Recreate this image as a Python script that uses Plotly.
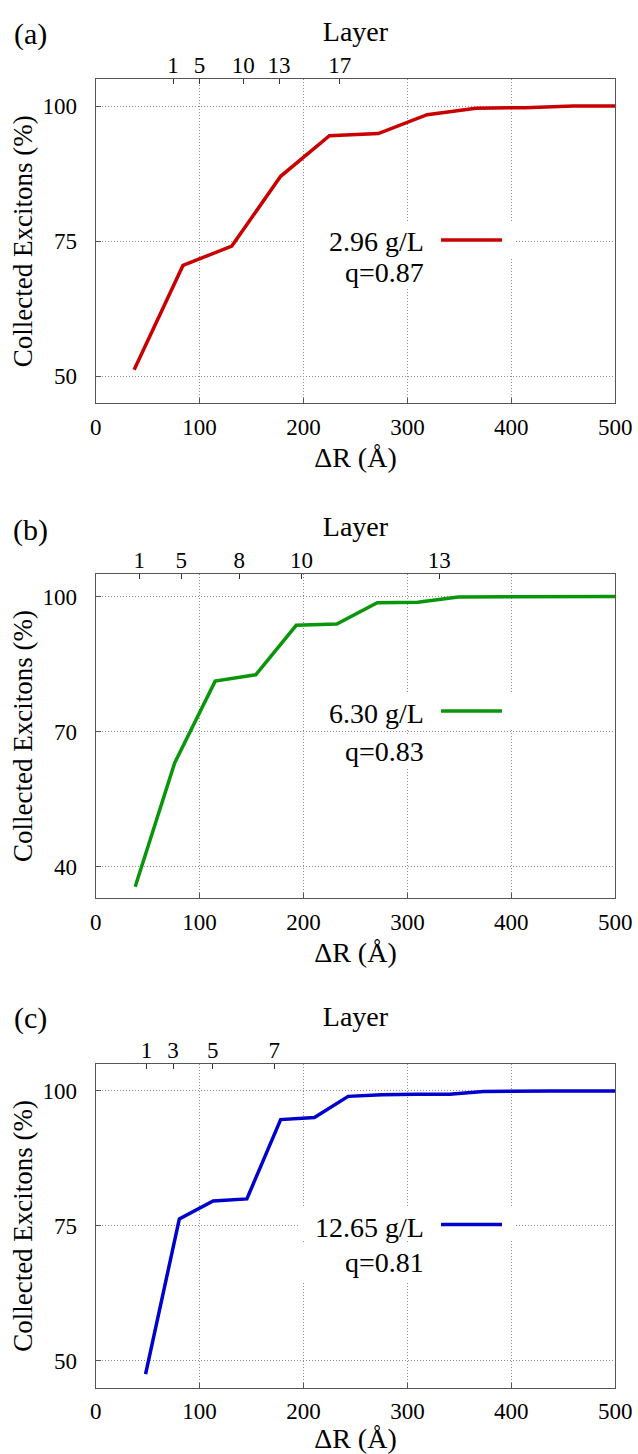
import plotly.graph_objects as go

# ---------------- data ----------------
dR_a = [37, 84, 131, 178, 225, 272, 319, 366, 413, 460, 500]
exc_a = [51.2, 70.5, 74.1, 87.0, 94.5, 94.9, 98.4, 99.6, 99.7, 100.0, 100.0]

dR_b = [38, 76, 115, 154, 193, 232, 271, 310, 349, 388, 427, 466, 500]
exc_b = [35.5, 63.0, 81.2, 82.6, 93.6, 93.9, 98.6, 98.7, 99.9, 99.9, 99.9, 100.0, 100.0]

dR_c = [48, 80.5, 113, 145.5, 178, 210.5, 243, 275.5, 308, 340.5, 373, 405.5, 438, 470.5, 500]
exc_c = [47.5, 76.3, 79.6, 80.0, 94.7, 95.1, 99.0, 99.3, 99.4, 99.4, 99.9, 100.0, 100.0, 100.0, 100.0]

layer_pos_a = [74.5, 100, 142, 176.5, 235]
layer_lab_a = ["1", "5", "10", "13", "17"]
layer_pos_b = [42, 82.3, 138.2, 198, 330.6]
layer_lab_b = ["1", "5", "8", "10", "13"]
layer_pos_c = [49, 74.4, 112.6, 171.8]
layer_lab_c = ["1", "3", "5", "7"]

x_ticks = [0, 100, 200, 300, 400, 500]
y_ticks_a = [50, 75, 100]
y_ticks_b = [40, 70, 100]
y_ticks_c = [50, 75, 100]

conc_labels = ["2.96 g/L", "6.30 g/L", "12.65 g/L"]
q_labels = ["q=0.87", "q=0.83", "q=0.81"]
panel_labels = ["(a)", "(b)", "(c)"]
y_title = "Collected Excitons (%)"
x_title = "ΔR (Å)"
top_title = "Layer"

# ---------------- layout geometry (pixels) ----------------
W, H = 638, 1454
PX_L, PX_R = 95.7, 615.2
X_RANGE = [0, 500]
FONT = "Liberation Serif"
colors = ["#c80000", "#0a960a", "#0000cc"]

panels = [
    dict(x=dR_a, y=exc_a, top=79, bot=403.3, yr=[45, 105], yt=y_ticks_a,
         lp=layer_pos_a, ll=layer_lab_a, line_y=240, t1=242, t2=273,
         box1=(306, 516, 223, 258), box2=(306, 440, 258, 288), lab_y=34),
    dict(x=dR_b, y=exc_b, top=574, bot=898, yr=[33, 105], yt=y_ticks_b,
         lp=layer_pos_b, ll=layer_lab_b, line_y=711, t1=713, t2=751,
         box1=(306, 516, 693, 729), box2=(306, 440, 735, 768), lab_y=530),
    dict(x=dR_c, y=exc_c, top=1064, bot=1387.7, yr=[45, 105], yt=y_ticks_c,
         lp=layer_pos_c, ll=layer_lab_c, line_y=1224.5, t1=1227, t2=1262,
         box1=(298, 516, 1208, 1241), box2=(298, 440, 1244, 1281), lab_y=1018),
]


def x_of_px(px):
    return X_RANGE[0] + (px - PX_L) / (PX_R - PX_L) * (X_RANGE[1] - X_RANGE[0])


def y_of_px(px, p):
    y0, y1 = p["yr"]
    return y1 - (px - p["top"]) / (p["bot"] - p["top"]) * (y1 - y0)


fig = go.Figure()
shapes = []
annotations = []
layout = dict(
    width=W, height=H,
    margin=dict(l=0, r=0, t=0, b=0, autoexpand=False),
    paper_bgcolor="white", plot_bgcolor="white",
    showlegend=False,
    font=dict(family=FONT, size=23, color="black"),
)

grid_col = "#8c8c8c"
grid_dash = "1px,2px"
spine_col = "#555555"

for i, p in enumerate(panels):
    n = i + 1
    xs = "" if n == 1 else str(n)
    xname, yname = "x" + xs, "y" + xs
    top_n = n + 3
    fig.add_trace(go.Scatter(x=p["x"], y=p["y"], mode="lines",
                             line=dict(color=colors[i], width=3.5),
                             xaxis=xname, yaxis=yname, hoverinfo="skip"))
    # invisible trace to anchor the top (Layer) axis
    fig.add_trace(go.Scatter(x=[p["lp"][0]], y=[p["yr"][0]], mode="markers",
                             marker=dict(opacity=0), xaxis="x" + str(top_n),
                             yaxis=yname, hoverinfo="skip"))

    ydom = [1 - p["bot"] / H, 1 - p["top"] / H]
    xdom = [PX_L / W, PX_R / W]

    layout["xaxis" + xs] = dict(
        domain=xdom, anchor=yname, range=X_RANGE, tickvals=x_ticks,
        showgrid=True, gridcolor=grid_col, griddash=grid_dash, gridwidth=1,
        showline=True, mirror=True, linecolor=spine_col, linewidth=1,
        ticks="inside", ticklen=5, tickcolor=spine_col,
        ticklabelstandoff=3, zeroline=False,
        tickfont=dict(family=FONT, size=23),
        title=dict(text=x_title, font=dict(family=FONT, size=28), standoff=8),
    )
    layout["yaxis" + xs] = dict(
        domain=ydom, anchor=xname, range=p["yr"], tickvals=p["yt"],
        showgrid=True, gridcolor=grid_col, griddash=grid_dash, gridwidth=1,
        showline=True, mirror=True, linecolor=spine_col, linewidth=1,
        ticks="inside", ticklen=5, tickcolor=spine_col,
        ticklabelstandoff=13, zeroline=False,
        tickfont=dict(family=FONT, size=23),
    )
    layout["xaxis" + str(top_n)] = dict(
        overlaying=xname, anchor=yname, side="top", range=X_RANGE,
        tickvals=p["lp"], ticktext=p["ll"], showgrid=False, showline=False,
        ticks="inside", ticklen=5, tickcolor="#333333",
        ticklabelstandoff=0, zeroline=False,
        tickfont=dict(family=FONT, size=23),
        title=dict(text=top_title, font=dict(family=FONT, size=28), standoff=3),
    )

    # y axis title (rotated text)
    annotations.append(dict(xref="paper", yref="paper", x=23 / W,
                            y=1 - (p["top"] + p["bot"]) / 2 / H,
                            xanchor="center", yanchor="middle", showarrow=False,
                            textangle=-90, text=y_title,
                            font=dict(family=FONT, size=27)))

    # key background boxes (opaque key, drawn above grid, below the curve)
    for (l, r, t, b) in (p["box1"], p["box2"]):
        shapes.append(dict(type="rect", xref=xname, yref=yname, layer="between",
                           x0=x_of_px(l), x1=x_of_px(r),
                           y0=y_of_px(b, p), y1=y_of_px(t, p),
                           fillcolor="white", line=dict(width=0)))
    # key sample line
    shapes.append(dict(type="line", xref=xname, yref=yname, layer="above",
                       x0=x_of_px(441), x1=x_of_px(502),
                       y0=y_of_px(p["line_y"], p), y1=y_of_px(p["line_y"], p),
                       line=dict(color=colors[i], width=3.5)))
    # key texts
    annotations.append(dict(xref=xname, yref=yname, x=x_of_px(426), y=y_of_px(p["t1"], p),
                            xanchor="right", yanchor="middle", showarrow=False,
                            text=conc_labels[i], font=dict(family=FONT, size=28)))
    annotations.append(dict(xref=xname, yref=yname, x=x_of_px(426), y=y_of_px(p["t2"], p),
                            xanchor="right", yanchor="middle", showarrow=False,
                            text=q_labels[i], font=dict(family=FONT, size=28)))
    # panel label
    annotations.append(dict(xref="paper", yref="paper", x=31 / W, y=1 - p["lab_y"] / H,
                            xanchor="center", yanchor="middle", showarrow=False,
                            text=panel_labels[i], font=dict(family=FONT, size=30)))

layout["shapes"] = shapes
layout["annotations"] = annotations
fig.update_layout(**layout)
fig.write_html("out.html",
               config={"displayModeBar": False},
               post_script="document.body.style.margin='0';document.body.style.overflow='hidden';")
